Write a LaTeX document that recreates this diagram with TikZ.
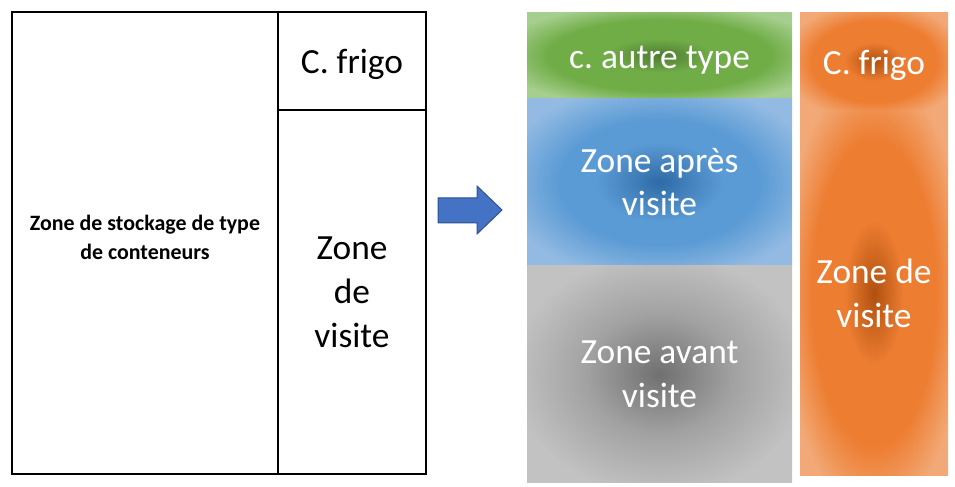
\documentclass[tikz,border=0pt]{standalone}
\usepackage{fontspec}
\setmainfont{Carlito}
\frenchspacing
\definecolor{gdark}{HTML}{4F7B33}
\definecolor{gmid}{HTML}{70AD47}
\definecolor{glight}{HTML}{A6CE8E}
\definecolor{bdark}{HTML}{2E6BA6}
\definecolor{bmid}{HTML}{5B9BD5}
\definecolor{blight}{HTML}{92BAE2}
\definecolor{kdark}{HTML}{707070}
\definecolor{kmid}{HTML}{A2A2A2}
\definecolor{klight}{HTML}{C2C2C2}
\definecolor{odark}{HTML}{B0500F}
\definecolor{omid}{HTML}{ED7D31}
\definecolor{olight}{HTML}{F2A977}
\definecolor{arrfill}{HTML}{4472C4}
\definecolor{arrline}{HTML}{2F528F}
\pgfdeclareradialshading{greensh}{\pgfpoint{0bp}{0bp}}{color(0bp)=(gdark); color(10bp)=(gmid); color(21bp)=(gmid); color(31bp)=(glight); color(50bp)=(glight)}
\pgfdeclareradialshading{bluesh}{\pgfpoint{0bp}{0bp}}{color(0bp)=(bdark); color(12bp)=(bmid); color(19bp)=(bmid); color(30bp)=(blight); color(50bp)=(blight)}
\pgfdeclareradialshading{graysh}{\pgfpoint{0bp}{0bp}}{color(0bp)=(kdark); color(14bp)=(kmid); color(28bp)=(klight); color(50bp)=(klight)}
\pgfdeclareradialshading{orangesh}{\pgfpoint{0bp}{0bp}}{color(0bp)=(odark); color(10bp)=(omid); color(21bp)=(omid); color(31bp)=(olight); color(50bp)=(olight)}
\tikzset{
  plainbox/.style={draw=black, line width=1.5bp, inner sep=0pt, outer sep=0pt, anchor=north west, align=center},
  bigtxt/.style={font=\fontsize{35.5}{44}\selectfont},
  zonebox/.style={draw=none, inner sep=0pt, outer sep=0pt, anchor=north west, align=center, text=white, font=\fontsize{35.5}{44}\selectfont},
  whitetxt/.style={text=white, align=center, font=\fontsize{35.5}{44}\selectfont},
}
\begin{document}
\begin{tikzpicture}[x=1bp,y=-1bp]
\useasboundingbox (0,0) rectangle (955,487);
% left plan
\node[plainbox, minimum width=266bp, minimum height=462bp] (stock) at (12,12) {};
\node[align=center, font=\bfseries\fontsize{22}{29}\selectfont] (stocktxt) at ([yshift=6bp]stock.center) {Zone de stockage de type\\de conteneurs};
\node[plainbox, minimum width=148bp, minimum height=98bp] (frigoL) at (278,12) {};
\node[bigtxt] (frigoLtxt) at ([yshift=-3bp]frigoL.center) {C. frigo};
\node[plainbox, bigtxt, minimum width=148bp, minimum height=364bp] (visiteL) at (278,110) {Zone\\de\\visite};
% arrow
\draw[fill=arrfill, draw=arrline, line width=1bp] (438,198) -- (477,198) -- (477,186) -- (502,210) -- (477,234) -- (477,223) -- (438,223) -- cycle;
% right plan
\node[zonebox, shading=greensh, minimum width=265bp, minimum height=85bp] (autre) at (527,13) {};
\node[whitetxt] (autretxt) at ([yshift=-5bp]autre.center) {c. autre type};
\node[zonebox, shading=bluesh, minimum width=265bp, minimum height=166bp] (apres) at (527,99) {Zone après\\visite};
\node[zonebox, shading=graysh, minimum width=265bp, minimum height=216bp] (avant) at (527,266) {Zone avant\\visite};
\node[zonebox, shading=orangesh, minimum width=148bp, minimum height=97bp] (frigoR) at (800,13) {};
\node[whitetxt] (frigoRtxt) at ([yshift=-4bp]frigoR.center) {C. frigo};
\node[zonebox, shading=orangesh, minimum width=148bp, minimum height=364bp] (visiteR) at (800,111) {Zone de\\visite};
\end{tikzpicture}
\end{document}
